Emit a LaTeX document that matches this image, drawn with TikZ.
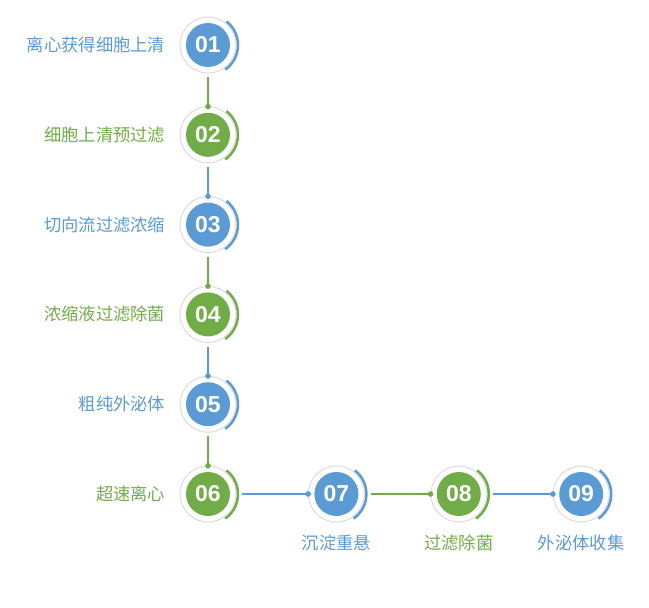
\documentclass[tikz,border=0pt]{standalone}
\usepackage{fontspec}
\setmainfont{Noto Sans CJK SC}
\newfontfamily\numfont{Liberation Sans}
\usetikzlibrary{positioning, arrows.meta}
\definecolor{stepblue}{HTML}{5B9BD5}
\definecolor{stepgreen}{HTML}{70AD47}

\begin{document}
\begin{tikzpicture}[x=1pt, y=-1pt, node distance=45.4pt and 84pt, label distance=17pt,
                    bluestep/.style={circle, fill=stepblue, text=white, minimum size=44pt, inner sep=0pt, font=\numfont\bfseries\fontsize{23}{23}\selectfont},
                    greenstep/.style={bluestep, fill=stepgreen},
                    bluetext/.style={text=stepblue, font=\fontsize{17.3}{17.3}\selectfont},
                    greentext/.style={text=stepgreen, font=\fontsize{17.3}{17.3}\selectfont},
                    link/.style={line width=1.4pt, -{Circle[length=5.5pt]}, shorten >=3.3pt},]
    \useasboundingbox (0,0) rectangle (649,608);
    % nodes
    \node[bluestep]      (s1)       at (208,45) [label={[bluetext]left:离心获得细胞上清}]       {01};
    \node[greenstep]     (s2)       [below=of s1, label={[greentext]left:细胞上清预过滤}]       {02};
    \node[bluestep]      (s3)       [below=of s2, label={[bluetext]left:切向流过滤浓缩}]       {03};
    \node[greenstep]     (s4)       [below=of s3, label={[greentext]left:浓缩液过滤除菌}]       {04};
    \node[bluestep]      (s5)       [below=of s4, label={[bluetext]left:粗纯外泌体}]       {05};
    \node[greenstep]     (s6)       [below=of s5, label={[greentext]left:超速离心}]       {06};
    \node[bluestep]      (s7)       [right=of s6, label={[bluetext, yshift=2pt]below:沉淀重悬}]       {07};
    \node[greenstep]     (s8)       [right=78pt of s7, label={[greentext, yshift=2pt]below:过滤除菌}]       {08};
    \node[bluestep]      (s9)       [right=78pt of s8, label={[bluetext, yshift=2pt]below:外泌体收集}]       {09};
    % rings
    \foreach \s/\c in {s1/stepblue, s2/stepgreen, s3/stepblue, s4/stepgreen, s5/stepblue,
                       s6/stepgreen, s7/stepblue, s8/stepgreen, s9/stepblue} {
        \draw[black!14, line width=1pt] (\s) circle (28pt);
        \draw[\c, line width=2.5pt] ([shift={(52:30pt)}]\s.center) arc (52:-55:30pt);
    }
    % lines
    \draw[link, stepgreen, shorten <=10pt] (s1) -- (s2);
    \draw[link, stepblue, shorten <=10pt] (s2) -- (s3);
    \draw[link, stepgreen, shorten <=10pt] (s3) -- (s4);
    \draw[link, stepblue, shorten <=10pt] (s4) -- (s5);
    \draw[link, stepgreen, shorten <=10pt] (s5) -- (s6);
    \draw[link, stepblue, shorten <=12pt] (s6) -- (s7);
    \draw[link, stepgreen, shorten <=12pt] (s7) -- (s8);
    \draw[link, stepblue, shorten <=12pt] (s8) -- (s9);
\end{tikzpicture}
\end{document}
